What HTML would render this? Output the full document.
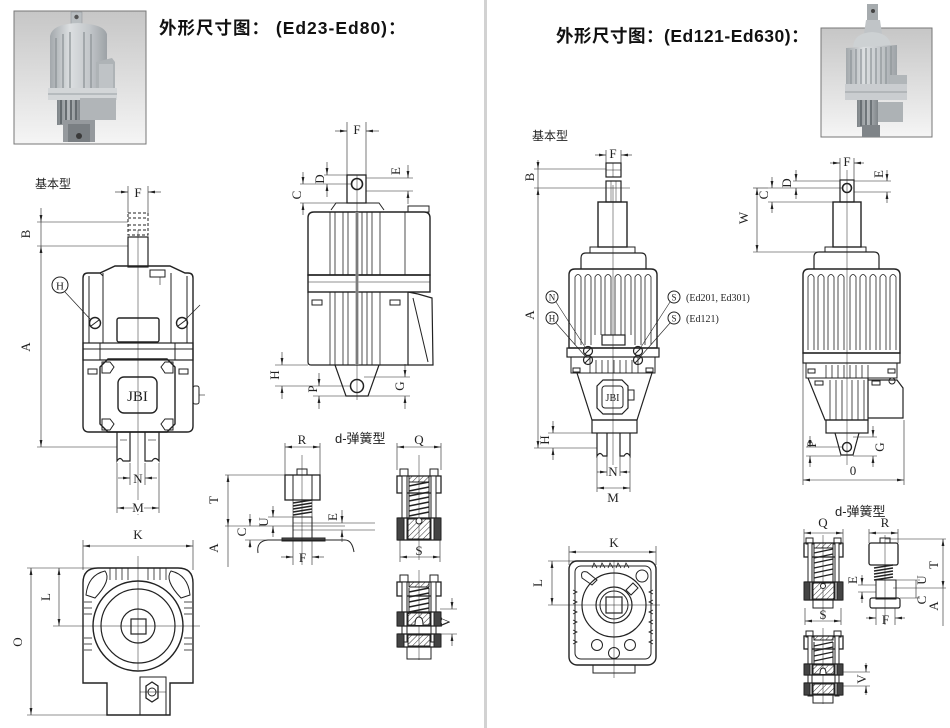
<!DOCTYPE html>
<html><head><meta charset="utf-8"><style>
html,body{margin:0;padding:0;background:#fff}
svg{display:block}
.t{font-family:"Liberation Serif",serif;font-size:13px;fill:#222}
.h{font-family:"Liberation Sans","Noto Sans CJK SC",sans-serif;font-weight:bold;font-size:17.5px;fill:#111}
.c{font-family:"Liberation Sans","Noto Sans CJK SC",sans-serif;font-size:12px;fill:#222}
</style></head><body>
<svg width="950" height="728" viewBox="0 0 950 728" xmlns="http://www.w3.org/2000/svg">
<defs>
<marker id="ar" viewBox="0 0 10 10" refX="10" refY="5" markerWidth="7" markerHeight="7" orient="auto-start-reverse" markerUnits="userSpaceOnUse"><path d="M0,3 L10,5 L0,7 Z" fill="#222"/></marker>
<pattern id="hat" width="4" height="4" patternUnits="userSpaceOnUse" patternTransform="rotate(45)"><line x1="0" y1="0" x2="0" y2="4" stroke="#333" stroke-width="1"/></pattern>
<linearGradient id="pg" x1="0" y1="0" x2="0" y2="1"><stop offset="0" stop-color="#c6c6c6"/><stop offset="1" stop-color="#f5f5f5"/></linearGradient>
<linearGradient id="mg" x1="0" y1="0" x2="1" y2="0"><stop offset="0" stop-color="#a3a8ac"/><stop offset="0.35" stop-color="#dcdfe1"/><stop offset="0.7" stop-color="#c2c6c9"/><stop offset="1" stop-color="#9da2a6"/></linearGradient>
<linearGradient id="dg" x1="0" y1="0" x2="1" y2="0"><stop offset="0" stop-color="#7e8488"/><stop offset="0.5" stop-color="#b5b9bc"/><stop offset="1" stop-color="#80868a"/></linearGradient>
</defs>

<!-- divider -->
<rect x="484" y="0" width="3" height="728" fill="#d2d2d2"/>

<!-- LEFT PHOTO -->
<rect x="14" y="11" width="132" height="133" fill="url(#pg)" stroke="#777" stroke-width="1"/>
<g>
<rect x="71" y="12" width="11" height="12" fill="#b9bec1" stroke="#8a8f93" stroke-width="0.5"/>
<circle cx="76.5" cy="17" r="2.2" fill="#555"/>
<path d="M50,90 L50,36 Q52,24 78,23 Q104,24 107,34 L107,62 L96,62 L96,90 Z" fill="url(#mg)"/>
<g stroke="#8d9397" stroke-width="1.3"><line x1="56" y1="38" x2="56" y2="88"/><line x1="63" y1="34" x2="63" y2="88"/><line x1="70" y1="32" x2="70" y2="88"/><line x1="84" y1="32" x2="84" y2="88"/><line x1="91" y1="34" x2="91" y2="88"/></g>
<path d="M96,62 L112,58 L115,62 L115,93 L96,93 Z" fill="#aeb3b6"/>
<rect x="99" y="64" width="14" height="26" fill="#bfc3c6"/>
<rect x="48" y="88" width="69" height="12" fill="#d3d6d8"/>
<line x1="48" y1="94" x2="117" y2="94" stroke="#9aa0a4" stroke-width="1"/>
<rect x="57" y="100" width="23" height="25" fill="url(#dg)"/>
<g stroke="#5f666a" stroke-width="1.8"><line x1="61" y1="100" x2="61" y2="124"/><line x1="66" y1="100" x2="66" y2="124"/><line x1="71" y1="100" x2="71" y2="124"/><line x1="76" y1="100" x2="76" y2="124"/></g>
<rect x="80" y="98" width="36" height="22" fill="#b1b5b8"/>
<rect x="63" y="120" width="32" height="22" fill="#95999d"/>
<rect x="68" y="124" width="22" height="18" fill="#7a7f83"/>
<circle cx="79" cy="136" r="3" fill="#3a3a3a"/>
</g>

<text x="159" y="34" class="h" style="letter-spacing:1px">外形尺寸图：  (Ed23-Ed80)：</text>
<text x="35" y="188" class="c">基本型</text>

<!-- LEFT FRONT VIEW -->
<g stroke="#222" fill="none" stroke-width="1">
<line x1="128" y1="186" x2="128" y2="213" stroke-width="0.6"/>
<line x1="148" y1="186" x2="148" y2="213" stroke-width="0.6"/>
<line x1="115" y1="192" x2="128" y2="192" stroke-width="0.6" marker-end="url(#ar)"/>
<line x1="161" y1="192" x2="148" y2="192" stroke-width="0.6" marker-end="url(#ar)"/>
<rect x="128" y="213" width="20" height="22" stroke-dasharray="3,2"/>
<line x1="128" y1="218" x2="148" y2="218" stroke-dasharray="3,2"/>
<line x1="128" y1="225" x2="148" y2="225" stroke-dasharray="3,2"/>
<line x1="128" y1="230" x2="148" y2="230" stroke-dasharray="3,2"/>
<rect x="128" y="237" width="20" height="30" stroke-width="1.2"/>
<line x1="138" y1="230" x2="138" y2="515" stroke-width="0.5"/>
<!-- body -->
<path d="M83,278 Q83,273 88,273 L100,273 L115,266 L170,266 L185,273 L188,273 Q193,273 193,278 L193,426 Q193,432 187,432 L89,432 Q83,432 83,426 Z" stroke-width="1.4"/>
<line x1="89" y1="276" x2="89" y2="343"/><line x1="187" y1="276" x2="187" y2="343"/>
<line x1="103" y1="273" x2="103" y2="343"/><line x1="171" y1="273" x2="171" y2="343"/>
<line x1="100" y1="273" x2="103" y2="276"/>
<rect x="150" y="270" width="15" height="7"/>
<line x1="160" y1="277" x2="160" y2="285" stroke-width="0.6"/>
<rect x="117" y="318" width="42" height="24" rx="2" stroke-width="1.4"/>
<rect x="83" y="343" width="110" height="17" stroke-width="1.2"/>
<line x1="83" y1="349" x2="193" y2="349"/>
<line x1="100" y1="343" x2="100" y2="360"/><line x1="175" y1="343" x2="175" y2="360"/>
<path d="M108,359 L167,359 L175,367 L175,424 L167,432 L108,432 L100,424 L100,367 Z" stroke-width="1.4"/>
<path d="M102,362 L110,362 L114,367 L110,373 L102,373 Z"/><path d="M173,362 L165,362 L161,367 L165,373 L173,373 Z"/>
<path d="M102,419 L110,419 L114,424 L110,430 L102,430 Z"/><path d="M173,419 L165,419 L161,424 L165,430 L173,430 Z"/>
<rect x="118" y="377" width="39" height="36" rx="6" stroke-width="1.4"/>
<rect x="88" y="369" width="9" height="5"/><rect x="179" y="369" width="9" height="5"/>
<rect x="193" y="386" width="6" height="18" rx="2"/>
<line x1="199" y1="395" x2="205" y2="395" stroke-width="0.6"/>
<circle cx="95" cy="323" r="5.5" stroke-width="1.4"/><line x1="91" y1="326" x2="99" y2="320"/>
<circle cx="182" cy="323" r="5.5" stroke-width="1.4"/><line x1="178" y1="326" x2="186" y2="320"/>
<circle cx="60" cy="285" r="8"/>
<line x1="65" y1="292" x2="91" y2="320" stroke-width="0.7"/>
<line x1="186" y1="319" x2="200" y2="305" stroke-width="0.7"/>
<!-- legs -->
<path d="M117,432 L117,461 Q120,456 123,461 L130,461 L130,432" stroke-width="1.2"/>
<path d="M145,432 L145,461 L152,461 Q155,456 159,461 L159,432" stroke-width="1.2"/>
<line x1="120" y1="440" x2="127" y2="440" stroke-width="0.6"/><line x1="148" y1="440" x2="156" y2="440" stroke-width="0.6"/>
<!-- A/B dims -->
<line x1="37" y1="222" x2="128" y2="222" stroke-width="0.6"/>
<line x1="37" y1="246" x2="128" y2="246" stroke-width="0.6"/>
<line x1="37" y1="447" x2="117" y2="447" stroke-width="0.6"/>
<line x1="41" y1="208" x2="41" y2="222" stroke-width="0.6" marker-end="url(#ar)"/>
<line x1="41" y1="246" x2="41" y2="447" stroke-width="0.6" marker-start="url(#ar)" marker-end="url(#ar)"/>
<line x1="41" y1="222" x2="41" y2="246" stroke-width="0.6"/>
<!-- N M -->
<line x1="130" y1="463" x2="130" y2="485" stroke-width="0.6"/><line x1="145" y1="463" x2="145" y2="485" stroke-width="0.6"/>
<line x1="117" y1="463" x2="117" y2="513" stroke-width="0.6"/><line x1="159" y1="463" x2="159" y2="513" stroke-width="0.6"/>
<line x1="118" y1="478" x2="130" y2="478" stroke-width="0.6" marker-end="url(#ar)"/>
<line x1="157" y1="478" x2="145" y2="478" stroke-width="0.6" marker-end="url(#ar)"/>
<line x1="117" y1="508" x2="159" y2="508" stroke-width="0.6" marker-start="url(#ar)" marker-end="url(#ar)"/>
</g>
<text x="138" y="197" class="t" text-anchor="middle">F</text>
<text x="137.5" y="401" class="t" text-anchor="middle" style="font-size:15px">JBI</text>
<text x="60" y="289.5" class="t" text-anchor="middle" style="font-size:11px">H</text>
<text transform="translate(30,234) rotate(-90)" class="t" text-anchor="middle">B</text>
<text transform="translate(30,347) rotate(-90)" class="t" text-anchor="middle">A</text>
<text x="138" y="483" class="t" text-anchor="middle">N</text>
<rect x="133" y="500" width="11" height="14" fill="#fff"/>
<text x="138" y="512" class="t" text-anchor="middle">M</text>

<!-- LEFT SIDE VIEW -->
<g stroke="#222" fill="none" stroke-width="1">
<line x1="347" y1="122" x2="347" y2="175" stroke-width="0.6"/>
<line x1="366" y1="122" x2="366" y2="175" stroke-width="0.6"/>
<line x1="335" y1="131" x2="347" y2="131" stroke-width="0.6" marker-end="url(#ar)"/>
<line x1="379" y1="131" x2="366" y2="131" stroke-width="0.6" marker-end="url(#ar)"/>
<rect x="347" y="175" width="19" height="28" stroke-width="1.3"/>
<circle cx="357" cy="184" r="5.5" stroke-width="1.6"/>
<path d="M331,210 L336,203 L379,203 L384,210"/>
<path d="M308,218 Q308,212 314,212 L424,212 Q430,212 430,218 L430,275 L308,275 Z" stroke-width="1.4"/>
<rect x="408" y="206" width="21" height="6"/>
<rect x="308" y="275" width="122" height="17" stroke-width="1.4"/>
<line x1="308" y1="282" x2="430" y2="282" stroke-width="0.6"/>
<path d="M308,292 L308,362 Q308,365 311,365 L408,365 L408,292" stroke-width="1.2"/>
<path d="M408,292 L418,294 L432,298 L433,365 L408,365" stroke-width="1.2"/>
<line x1="413" y1="298" x2="428" y2="362"/>
<g stroke-width="0.8">
<line x1="330" y1="212" x2="330" y2="275"/><line x1="335" y1="212" x2="335" y2="275"/><line x1="343" y1="212" x2="343" y2="275"/><line x1="348" y1="212" x2="348" y2="275"/><line x1="362" y1="212" x2="362" y2="275"/><line x1="367" y1="212" x2="367" y2="275"/><line x1="372" y1="212" x2="372" y2="275"/><line x1="380" y1="212" x2="380" y2="275"/><line x1="405" y1="212" x2="405" y2="275"/>
<line x1="330" y1="292" x2="330" y2="365"/><line x1="335" y1="292" x2="335" y2="365"/><line x1="343" y1="292" x2="343" y2="365"/><line x1="348" y1="292" x2="348" y2="365"/><line x1="362" y1="292" x2="362" y2="365"/><line x1="367" y1="292" x2="367" y2="365"/><line x1="372" y1="292" x2="372" y2="365"/><line x1="380" y1="292" x2="380" y2="365"/>
</g>
<rect x="312" y="300" width="10" height="5"/><rect x="390" y="300" width="10" height="5"/>
<path d="M335,365 L346,396 L368,396 L379,365" stroke-width="1.2"/>
<circle cx="357" cy="386" r="6.5" stroke-width="1.5"/>
<!-- dims -->
<line x1="300" y1="184" x2="351" y2="184" stroke-width="0.6"/>
<line x1="300" y1="203" x2="336" y2="203" stroke-width="0.6"/>
<line x1="303" y1="172" x2="303" y2="184" stroke-width="0.6" marker-end="url(#ar)"/>
<line x1="303" y1="215" x2="303" y2="203" stroke-width="0.6" marker-end="url(#ar)"/>
<line x1="324" y1="175" x2="347" y2="175" stroke-width="0.6"/>
<line x1="327" y1="162" x2="327" y2="175" stroke-width="0.6" marker-end="url(#ar)"/>
<line x1="327" y1="197" x2="327" y2="184" stroke-width="0.6" marker-end="url(#ar)"/>
<line x1="366" y1="178" x2="413" y2="178" stroke-width="0.6"/>
<line x1="366" y1="191" x2="413" y2="191" stroke-width="0.6"/>
<line x1="408" y1="165" x2="408" y2="178" stroke-width="0.6" marker-end="url(#ar)"/>
<line x1="408" y1="204" x2="408" y2="191" stroke-width="0.6" marker-end="url(#ar)"/>
<line x1="275" y1="365" x2="308" y2="365" stroke-width="0.6"/>
<line x1="275" y1="386" x2="350" y2="386" stroke-width="0.6"/>
<line x1="282" y1="352" x2="282" y2="365" stroke-width="0.6" marker-end="url(#ar)"/>
<line x1="282" y1="399" x2="282" y2="386" stroke-width="0.6" marker-end="url(#ar)"/>
<line x1="313" y1="396" x2="346" y2="396" stroke-width="0.6"/>
<line x1="319" y1="373" x2="319" y2="386" stroke-width="0.6" marker-end="url(#ar)"/>
<line x1="319" y1="409" x2="319" y2="396" stroke-width="0.6" marker-end="url(#ar)"/>
<line x1="364" y1="377" x2="410" y2="377" stroke-width="0.6"/>
<line x1="368" y1="396" x2="410" y2="396" stroke-width="0.6"/>
<line x1="405" y1="364" x2="405" y2="377" stroke-width="0.6" marker-end="url(#ar)"/>
<line x1="405" y1="409" x2="405" y2="396" stroke-width="0.6" marker-end="url(#ar)"/>
</g>
<rect x="355.5" y="212" width="3" height="153" fill="#999"/>
<line x1="357" y1="175" x2="357" y2="400" stroke="#222" stroke-width="0.5"/>
<text x="357" y="134" class="t" text-anchor="middle">F</text>
<text transform="translate(301,195) rotate(-90)" class="t" text-anchor="middle">C</text>
<text transform="translate(324,179) rotate(-90)" class="t" text-anchor="middle">D</text>
<text transform="translate(400,171) rotate(-90)" class="t" text-anchor="middle">E</text>
<text transform="translate(279,375) rotate(-90)" class="t" text-anchor="middle">H</text>
<text transform="translate(317,389) rotate(-90)" class="t" text-anchor="middle">P</text>
<text transform="translate(404,386) rotate(-90)" class="t" text-anchor="middle">G</text>

<!-- LEFT BOTTOM K VIEW -->
<g stroke="#222" fill="none" stroke-width="1">
<line x1="83" y1="540" x2="83" y2="570" stroke-width="0.6"/><line x1="193" y1="540" x2="193" y2="570" stroke-width="0.6"/>
<line x1="83" y1="546" x2="193" y2="546" stroke-width="0.6" marker-start="url(#ar)" marker-end="url(#ar)"/>
<path d="M98,568 L178,568 Q193,568 193,583 L193,683 L170,683 L170,715 L107,715 L107,683 L83,683 L83,583 Q83,568 98,568 Z" stroke-width="1.4"/>
<path d="M86,595 Q88,575 105,571 Q112,580 95,598 Z"/>
<path d="M190,595 Q188,575 171,571 Q164,580 181,598 Z"/>
<g stroke-width="0.8"><line x1="110" y1="568" x2="110" y2="580"/><line x1="116" y1="568" x2="116" y2="580"/><line x1="122" y1="568" x2="122" y2="580"/><line x1="128" y1="568" x2="128" y2="580"/><line x1="148" y1="568" x2="148" y2="580"/><line x1="154" y1="568" x2="154" y2="580"/><line x1="160" y1="568" x2="160" y2="580"/><line x1="166" y1="568" x2="166" y2="580"/>
<line x1="84" y1="602" x2="92" y2="602"/><line x1="84" y1="608" x2="92" y2="608"/><line x1="84" y1="614" x2="92" y2="614"/><line x1="84" y1="638" x2="92" y2="638"/><line x1="84" y1="644" x2="92" y2="644"/><line x1="84" y1="650" x2="92" y2="650"/>
<line x1="184" y1="602" x2="192" y2="602"/><line x1="184" y1="608" x2="192" y2="608"/><line x1="184" y1="614" x2="192" y2="614"/><line x1="184" y1="638" x2="192" y2="638"/><line x1="184" y1="644" x2="192" y2="644"/><line x1="184" y1="650" x2="192" y2="650"/></g>
<circle cx="138" cy="626" r="45" stroke-width="1.4"/>
<circle cx="138" cy="626" r="37" stroke-width="1.2"/>
<circle cx="138" cy="626" r="17" stroke-width="1.2"/>
<rect x="131" y="619" width="15" height="15" stroke-width="1.2"/>
<rect x="140" y="677" width="26" height="38"/>
<path d="M146,686 L152,682 L158,686 L158,698 L152,702 L146,698 Z" stroke-width="1.3"/>
<circle cx="152" cy="692" r="4"/>
<line x1="138" y1="556" x2="138" y2="670" stroke-width="0.5"/>
<line x1="53" y1="626" x2="200" y2="626" stroke-width="0.5"/>
<line x1="140" y1="692" x2="166" y2="692" stroke-width="0.5"/>
<line x1="27" y1="568" x2="96" y2="568" stroke-width="0.6"/>
<line x1="27" y1="715" x2="107" y2="715" stroke-width="0.6"/>
<line x1="59" y1="568" x2="59" y2="626" stroke-width="0.6" marker-start="url(#ar)" marker-end="url(#ar)"/>
<line x1="31" y1="568" x2="31" y2="715" stroke-width="0.6" marker-start="url(#ar)" marker-end="url(#ar)"/>
</g>
<text x="138" y="539" class="t" text-anchor="middle">K</text>
<text transform="translate(50,597) rotate(-90)" class="t" text-anchor="middle">L</text>
<text transform="translate(22,642) rotate(-90)" class="t" text-anchor="middle">O</text>

<!-- LEFT d-spring -->
<text x="335" y="443" class="c" style="font-size:13px">d-弹簧型</text>
<g stroke="#222" fill="none" stroke-width="1">
<line x1="285" y1="443" x2="285" y2="475" stroke-width="0.6"/><line x1="320" y1="443" x2="320" y2="475" stroke-width="0.6"/>
<line x1="285" y1="447" x2="320" y2="447" stroke-width="0.6" marker-start="url(#ar)" marker-end="url(#ar)"/>
<rect x="297" y="469" width="10" height="6"/>
<rect x="285" y="475" width="35" height="25" stroke-width="1.3"/>
<line x1="293" y1="475" x2="293" y2="500"/><line x1="312" y1="475" x2="312" y2="500"/>
<path d="M293,503 L312,500 M293,506 L312,503 M293,509 L312,506 M293,512 L312,509 M293,515 L312,512" stroke-width="1.6"/>
<path d="M293,500 L293,517 M312,500 L312,517" stroke-width="0.6"/>
<rect x="293" y="517" width="19" height="22"/>
<line x1="293" y1="523" x2="312" y2="523" stroke-width="0.6"/><line x1="293" y1="530" x2="312" y2="530" stroke-width="0.6"/>
<rect x="282" y="538" width="43" height="3" fill="#555"/>
<path d="M258,553 Q256,541 268,540 L345,540 Q352,540 354,552"/>
<line x1="302" y1="455" x2="302" y2="565" stroke-width="0.5"/>
<line x1="225" y1="475" x2="285" y2="475" stroke-width="0.6"/>
<line x1="225" y1="526" x2="345" y2="526" stroke-width="0.6"/>
<line x1="228" y1="475" x2="228" y2="526" stroke-width="0.6" marker-start="url(#ar)" marker-end="url(#ar)"/>
<line x1="228" y1="526" x2="228" y2="567" stroke-width="0.6"/>
<line x1="268" y1="517" x2="298" y2="517" stroke-width="0.6"/>
<line x1="273" y1="506" x2="273" y2="517" stroke-width="0.6" marker-end="url(#ar)"/>
<line x1="273" y1="537" x2="273" y2="526" stroke-width="0.6" marker-end="url(#ar)"/>
<line x1="250" y1="514" x2="250" y2="526" stroke-width="0.6" marker-end="url(#ar)"/>
<line x1="250" y1="548" x2="250" y2="540" stroke-width="0.6" marker-end="url(#ar)"/>
<line x1="245" y1="540" x2="282" y2="540" stroke-width="0.6"/>
<line x1="312" y1="523" x2="375" y2="523" stroke-width="0.6"/>
<line x1="312" y1="530" x2="375" y2="530" stroke-width="0.6"/>
<line x1="342" y1="510" x2="342" y2="523" stroke-width="0.6" marker-end="url(#ar)"/>
<line x1="342" y1="542" x2="342" y2="530" stroke-width="0.6" marker-end="url(#ar)"/>
<line x1="293" y1="541" x2="293" y2="565" stroke-width="0.6"/><line x1="312" y1="541" x2="312" y2="565" stroke-width="0.6"/>
<line x1="281" y1="557" x2="293" y2="557" stroke-width="0.6" marker-end="url(#ar)"/>
<line x1="324" y1="557" x2="312" y2="557" stroke-width="0.6" marker-end="url(#ar)"/>
</g>
<text x="302" y="444" class="t" text-anchor="middle">R</text>
<text x="302.5" y="562" class="t" text-anchor="middle">F</text>
<text transform="translate(218,500) rotate(-90)" class="t" text-anchor="middle">T</text>
<text transform="translate(218,548) rotate(-90)" class="t" text-anchor="middle">A</text>
<text transform="translate(268,522) rotate(-90)" class="t" text-anchor="middle">U</text>
<text transform="translate(246,532) rotate(-90)" class="t" text-anchor="middle">C</text>
<text transform="translate(337,517) rotate(-90)" class="t" text-anchor="middle">E</text>

<!-- spring units left -->
<g stroke="#222" fill="none" stroke-width="1">
<line x1="397" y1="443" x2="397" y2="470" stroke-width="0.6"/><line x1="441" y1="443" x2="441" y2="470" stroke-width="0.6"/>
<line x1="397" y1="447" x2="441" y2="447" stroke-width="0.6" marker-start="url(#ar)" marker-end="url(#ar)"/>
<line x1="419" y1="455" x2="419" y2="560" stroke-width="0.5"/>
<rect x="400" y="469" width="8" height="7" fill="#fff"/><rect x="430" y="469" width="8" height="7" fill="#fff"/>
<rect x="397" y="476" width="44" height="17" stroke-width="1.3"/>
<rect x="409" y="476" width="20" height="6" fill="url(#hat)"/>
<rect x="402" y="476" width="5" height="64" fill="#fff"/><rect x="431" y="476" width="5" height="64" fill="#fff"/>
<path d="M409,486 L429,482 M409,491 L429,487 M409,496 L429,492 M409,501 L429,497 M409,506 L429,502 M409,511 L429,507 M409,516 L429,512" stroke-width="1.5"/>
<line x1="409" y1="482" x2="409" y2="518"/><line x1="429" y1="482" x2="429" y2="518"/>
<rect x="398" y="518" width="42" height="22" stroke-width="1.3"/>
<rect x="408" y="519" width="22" height="20" fill="url(#hat)"/>
<rect x="397" y="518" width="7" height="22" fill="#444"/><rect x="434" y="518" width="7" height="22" fill="#444"/>
<circle cx="419" cy="521" r="3" fill="#fff"/>
<line x1="400" y1="540" x2="400" y2="562" stroke-width="0.6"/><line x1="440" y1="540" x2="440" y2="562" stroke-width="0.6"/>
<line x1="400" y1="557" x2="440" y2="557" stroke-width="0.6" marker-start="url(#ar)" marker-end="url(#ar)"/>

<line x1="419" y1="570" x2="419" y2="660" stroke-width="0.5"/>
<rect x="400" y="575" width="8" height="7" fill="#fff"/><rect x="430" y="575" width="8" height="7" fill="#fff"/>
<rect x="397" y="582" width="44" height="14" stroke-width="1.3"/>
<rect x="409" y="582" width="20" height="5" fill="url(#hat)"/>
<rect x="402" y="582" width="5" height="60" fill="#fff"/><rect x="431" y="582" width="5" height="60" fill="#fff"/>
<path d="M409,592 L429,588 M409,597 L429,593 M409,602 L429,598 M409,607 L429,603 M409,612 L429,608" stroke-width="1.5"/>
<line x1="409" y1="588" x2="409" y2="614"/><line x1="429" y1="588" x2="429" y2="614"/>
<rect x="398" y="612" width="42" height="14" stroke-width="1.3"/>
<rect x="408" y="613" width="22" height="12" fill="url(#hat)"/>
<rect x="397" y="612" width="7" height="14" fill="#444"/><rect x="434" y="612" width="7" height="14" fill="#444"/>
<path d="M415,625 Q415,617 419,617 Q423,617 423,625" fill="#fff"/>
<rect x="398" y="634" width="42" height="13" stroke-width="1.3"/>
<rect x="408" y="635" width="22" height="11" fill="url(#hat)"/>
<rect x="397" y="634" width="7" height="13" fill="#444"/><rect x="434" y="634" width="7" height="13" fill="#444"/>
<rect x="407" y="647" width="24" height="12"/>
<line x1="440" y1="609" x2="457" y2="609" stroke-width="0.6"/><line x1="440" y1="634" x2="457" y2="634" stroke-width="0.6"/>
<line x1="452" y1="598" x2="452" y2="609" stroke-width="0.6" marker-end="url(#ar)"/>
<line x1="452" y1="646" x2="452" y2="634" stroke-width="0.6" marker-end="url(#ar)"/>
</g>
<text x="419" y="444" class="t" text-anchor="middle">Q</text>
<text x="419" y="555" class="t" text-anchor="middle">S</text>
<text transform="translate(450,622) rotate(-90)" class="t" text-anchor="middle">V</text>

<!-- RIGHT TITLE / PHOTO -->
<text x="556" y="42" class="h" style="letter-spacing:0.5px">外形尺寸图：(Ed121-Ed630)：</text>
<rect x="821" y="28" width="111" height="109" fill="url(#pg)" stroke="#777" stroke-width="1"/>
<g>
<rect x="867" y="4" width="11" height="18" fill="#a6abae"/>
<circle cx="873" cy="11" r="2" fill="#444"/>
<path d="M866,20 L880,20 L882,34 L864,34 Z" fill="#c0c4c7"/>
<path d="M853,47 Q854,33 872,32 Q890,33 891,47 Z" fill="#cdd1d3"/>
<path d="M846,48 L897,45 L897,86 L846,88 Z" fill="url(#mg)"/>
<g stroke="#8c9296" stroke-width="1.2"><line x1="851" y1="50" x2="851" y2="86"/><line x1="856" y1="49" x2="856" y2="86"/><line x1="861" y1="49" x2="861" y2="86"/><line x1="866" y1="48" x2="866" y2="86"/><line x1="871" y1="48" x2="871" y2="86"/><line x1="876" y1="48" x2="876" y2="86"/><line x1="881" y1="47" x2="881" y2="86"/><line x1="886" y1="47" x2="886" y2="86"/><line x1="891" y1="46" x2="891" y2="86"/></g>
<rect x="890" y="75" width="17" height="17" fill="#b1b6b9"/>
<rect x="845" y="84" width="62" height="16" fill="#cacdd0"/>
<line x1="845" y1="92" x2="907" y2="92" stroke="#999ea2" stroke-width="1"/>
<rect x="857" y="100" width="21" height="27" fill="url(#dg)"/>
<g stroke="#5f666a" stroke-width="1.6"><line x1="861" y1="100" x2="861" y2="126"/><line x1="866" y1="100" x2="866" y2="126"/><line x1="871" y1="100" x2="871" y2="126"/></g>
<rect x="878" y="102" width="25" height="20" fill="#adb2b5"/>
<rect x="862" y="125" width="18" height="12" fill="#7f8488"/>
</g>
<text x="532" y="140" class="c">基本型</text>

<!-- RIGHT FRONT VIEW -->
<g stroke="#222" fill="none" stroke-width="1">
<line x1="606" y1="150" x2="606" y2="163" stroke-width="0.6"/><line x1="621" y1="150" x2="621" y2="163" stroke-width="0.6"/>
<line x1="595" y1="155" x2="606" y2="155" stroke-width="0.6" marker-end="url(#ar)"/>
<line x1="632" y1="155" x2="621" y2="155" stroke-width="0.6" marker-end="url(#ar)"/>
<rect x="606" y="163" width="15" height="14" stroke-width="1.2"/>
<line x1="606" y1="170" x2="621" y2="170" stroke-width="0.5"/><line x1="613" y1="163" x2="613" y2="177" stroke-width="0.5"/>
<rect x="606" y="181" width="15" height="21" stroke-width="1.2"/>
<line x1="611" y1="181" x2="611" y2="202" stroke-width="0.5"/><line x1="616" y1="181" x2="616" y2="202" stroke-width="0.5"/>
<rect x="598" y="202" width="29" height="45" stroke-width="1.4"/>
<rect x="590" y="247" width="45" height="6"/>
<path d="M581,269 L581,258 Q581,253 586,253 L641,253 Q646,253 646,258 L646,269" stroke-width="1.2"/>
<path d="M569,348 L569,275 Q569,269 575,269 L651,269 Q657,269 657,275 L657,348 Z" stroke-width="1.4"/>
<g stroke-width="0.8">
<path d="M575,345 L575,277 Q578,272 581,277 L581,345"/><path d="M585,345 L585,277 Q588,272 591,277 L591,345"/><path d="M595,335 L595,277 Q598,272 601,277 L601,335"/><path d="M605,335 L605,277 Q608,272 611,277 L611,335"/><path d="M615,335 L615,277 Q618,272 621,277 L621,335"/><path d="M625,335 L625,277 Q628,272 631,277 L631,335"/><path d="M635,345 L635,277 Q638,272 641,277 L641,345"/><path d="M645,345 L645,277 Q648,272 651,277 L651,345"/>
</g>
<rect x="602" y="335" width="23" height="10" stroke-width="1.2"/>
<rect x="567" y="348" width="92" height="9" stroke-width="1.2"/>
<rect x="571" y="357" width="84" height="16"/>
<g stroke-width="0.8"><line x1="590" y1="357" x2="590" y2="373"/><line x1="596" y1="360" x2="596" y2="373"/><line x1="602" y1="360" x2="602" y2="373"/><line x1="608" y1="360" x2="608" y2="373"/><line x1="614" y1="360" x2="614" y2="373"/><line x1="620" y1="360" x2="620" y2="373"/><line x1="626" y1="360" x2="626" y2="373"/><line x1="632" y1="360" x2="632" y2="373"/><line x1="638" y1="357" x2="638" y2="373"/></g>
<rect x="573" y="368" width="7" height="4"/><rect x="646" y="368" width="7" height="4"/>
<path d="M577,373 L592,420 L637,420 L652,373" stroke-width="1.2"/>
<path d="M603,380 L622,380 L628,386 L628,408 L622,414 L603,414 L597,408 L597,386 Z" stroke-width="1.2"/>
<rect x="602" y="386" width="21" height="22" rx="3"/>
<rect x="628" y="390" width="6" height="10"/>
<rect x="592" y="420" width="45" height="13" stroke-width="1.2"/>
<path d="M597,433 L597,456 Q600,451 603,456 L607,456 L607,433" stroke-width="1.2"/>
<path d="M620,433 L620,456 L624,456 Q627,451 630,456 L630,433" stroke-width="1.2"/>
<line x1="613" y1="185" x2="613" y2="465" stroke-width="0.5"/>
<circle cx="588" cy="351" r="4.5" stroke-width="1.2"/><line x1="585" y1="354" x2="591" y2="348"/>
<circle cx="588" cy="360" r="4.5" stroke-width="1.2"/><line x1="585" y1="363" x2="591" y2="357"/>
<circle cx="638" cy="351" r="4.5" stroke-width="1.2"/><line x1="635" y1="354" x2="641" y2="348"/>
<circle cx="638" cy="360" r="4.5" stroke-width="1.2"/><line x1="635" y1="363" x2="641" y2="357"/>
<circle cx="552" cy="297" r="6"/><circle cx="552" cy="318" r="6"/>
<circle cx="674" cy="297" r="6"/><circle cx="674" cy="318" r="6"/>
<line x1="556" y1="302" x2="585" y2="347" stroke-width="0.6"/>
<line x1="556" y1="323" x2="585" y2="356" stroke-width="0.6"/>
<line x1="670" y1="302" x2="641" y2="347" stroke-width="0.6"/>
<line x1="670" y1="323" x2="641" y2="356" stroke-width="0.6"/>
<!-- A B H dims -->
<line x1="534" y1="169" x2="606" y2="169" stroke-width="0.6"/>
<line x1="534" y1="188" x2="630" y2="188" stroke-width="0.6"/>
<line x1="534" y1="448" x2="597" y2="448" stroke-width="0.6"/>
<line x1="548" y1="433" x2="592" y2="433" stroke-width="0.6"/>
<line x1="538" y1="160" x2="538" y2="169" stroke-width="0.6" marker-end="url(#ar)"/>
<line x1="538" y1="169" x2="538" y2="188" stroke-width="0.6"/>
<line x1="538" y1="188" x2="538" y2="448" stroke-width="0.6" marker-start="url(#ar)" marker-end="url(#ar)"/>
<line x1="553" y1="421" x2="553" y2="433" stroke-width="0.6" marker-end="url(#ar)"/>
<line x1="553" y1="460" x2="553" y2="448" stroke-width="0.6" marker-end="url(#ar)"/>
<line x1="607" y1="456" x2="607" y2="476" stroke-width="0.6"/><line x1="620" y1="456" x2="620" y2="476" stroke-width="0.6"/>
<line x1="597" y1="456" x2="597" y2="492" stroke-width="0.6"/><line x1="630" y1="456" x2="630" y2="492" stroke-width="0.6"/>
<line x1="597" y1="472" x2="607" y2="472" stroke-width="0.6" marker-end="url(#ar)"/>
<line x1="630" y1="472" x2="620" y2="472" stroke-width="0.6" marker-end="url(#ar)"/>
<line x1="597" y1="488" x2="630" y2="488" stroke-width="0.6" marker-start="url(#ar)" marker-end="url(#ar)"/>
</g>
<text x="613" y="158" class="t" text-anchor="middle">F</text>
<text x="612.5" y="401" class="t" text-anchor="middle" style="font-size:10px">JBI</text>
<text transform="translate(534,177) rotate(-90)" class="t" text-anchor="middle">B</text>
<text transform="translate(534,315) rotate(-90)" class="t" text-anchor="middle">A</text>
<text transform="translate(549,440) rotate(-90)" class="t" text-anchor="middle">H</text>
<text x="613" y="476" class="t" text-anchor="middle">N</text>
<text x="613" y="502" class="t" text-anchor="middle">M</text>
<text x="552" y="300.5" class="t" text-anchor="middle" style="font-size:9px">N</text>
<text x="552" y="321.5" class="t" text-anchor="middle" style="font-size:9px">H</text>
<text x="674" y="300.5" class="t" text-anchor="middle" style="font-size:9px">S</text>
<text x="674" y="321.5" class="t" text-anchor="middle" style="font-size:9px">S</text>
<text x="686" y="301" class="t" style="font-size:10px">(Ed201, Ed301)</text>
<text x="686" y="322" class="t" style="font-size:10px">(Ed121)</text>

<!-- RIGHT SIDE VIEW -->
<g stroke="#222" fill="none" stroke-width="1">
<line x1="840" y1="158" x2="840" y2="180" stroke-width="0.6"/><line x1="854" y1="158" x2="854" y2="180" stroke-width="0.6"/>
<line x1="830" y1="163" x2="840" y2="163" stroke-width="0.6" marker-end="url(#ar)"/>
<line x1="864" y1="163" x2="854" y2="163" stroke-width="0.6" marker-end="url(#ar)"/>
<rect x="840" y="180" width="14" height="22" stroke-width="1.2"/>
<circle cx="847" cy="188" r="4.5" stroke-width="1.6"/>
<rect x="833" y="202" width="28" height="45" stroke-width="1.4"/>
<rect x="825" y="247" width="41" height="5"/>
<path d="M814,269 L814,257 Q814,252 819,252 L874,252 Q879,252 879,257 L879,269" stroke-width="1.2"/>
<path d="M803,353 L803,275 Q803,269 809,269 L894,269 Q900,269 900,275 L900,353 Z" stroke-width="1.4"/>
<g stroke-width="0.8">
<path d="M808,350 L808,277 Q811,272 814,277 L814,350"/><path d="M818,350 L818,277 Q821,272 824,277 L824,350"/><path d="M828,350 L828,277 Q831,272 834,277 L834,350"/><path d="M838,350 L838,277 Q841,272 844,277 L844,350"/><path d="M850,350 L850,277 Q853,272 856,277 L856,350"/><path d="M860,350 L860,277 Q863,272 866,277 L866,350"/><path d="M870,350 L870,277 Q873,272 876,277 L876,350"/><path d="M880,350 L880,277 Q883,272 886,277 L886,350"/><path d="M890,350 L890,277 Q893,272 896,277 L896,350"/>
</g>
<rect x="803" y="353" width="97" height="10" stroke-width="1.2"/>
<rect x="806" y="363" width="91" height="15"/>
<g stroke-width="0.8"><line x1="826" y1="365" x2="826" y2="378"/><line x1="832" y1="365" x2="832" y2="378"/><line x1="838" y1="365" x2="838" y2="378"/><line x1="844" y1="365" x2="844" y2="378"/><line x1="850" y1="365" x2="850" y2="378"/><line x1="856" y1="365" x2="856" y2="378"/><line x1="862" y1="365" x2="862" y2="378"/><line x1="868" y1="365" x2="868" y2="378"/></g>
<rect x="808" y="369" width="7" height="4"/><rect x="888" y="369" width="7" height="4"/>
<path d="M808,378 L825,420 L868,420 L868,378" stroke-width="1.2"/>
<g stroke-width="0.8"><line x1="830" y1="380" x2="830" y2="420"/><line x1="836" y1="380" x2="836" y2="420"/><line x1="842" y1="380" x2="842" y2="420"/><line x1="852" y1="380" x2="852" y2="420"/><line x1="858" y1="380" x2="858" y2="420"/><line x1="864" y1="380" x2="864" y2="420"/></g>
<path d="M868,380 L897,380 L903,388 L903,418 L868,418" stroke-width="1.2"/>
<circle cx="892" cy="381" r="3"/>
<rect x="815" y="381" width="8" height="4"/><rect x="872" y="381" width="8" height="4"/>
<rect x="826" y="420" width="42" height="13" stroke-width="1.2"/>
<path d="M835,433 L841,455 L853,455 L859,433" stroke-width="1.2"/>
<circle cx="847" cy="447" r="4.5" stroke-width="1.4"/>
<line x1="847" y1="170" x2="847" y2="465" stroke-width="0.5"/>
<!-- dims -->
<line x1="768" y1="188" x2="843" y2="188" stroke-width="0.6"/>
<line x1="768" y1="202" x2="833" y2="202" stroke-width="0.6"/>
<line x1="793" y1="181" x2="840" y2="181" stroke-width="0.6"/>
<line x1="854" y1="181" x2="891" y2="181" stroke-width="0.6"/>
<line x1="854" y1="192" x2="891" y2="192" stroke-width="0.6"/>
<line x1="753" y1="252" x2="825" y2="252" stroke-width="0.6"/>
<line x1="772" y1="177" x2="772" y2="188" stroke-width="0.6" marker-end="url(#ar)"/>
<line x1="772" y1="213" x2="772" y2="202" stroke-width="0.6" marker-end="url(#ar)"/>
<line x1="796" y1="170" x2="796" y2="181" stroke-width="0.6" marker-end="url(#ar)"/>
<line x1="796" y1="199" x2="796" y2="188" stroke-width="0.6" marker-end="url(#ar)"/>
<line x1="887" y1="170" x2="887" y2="181" stroke-width="0.6" marker-end="url(#ar)"/>
<line x1="887" y1="203" x2="887" y2="192" stroke-width="0.6" marker-end="url(#ar)"/>
<line x1="757" y1="188" x2="757" y2="252" stroke-width="0.6" marker-start="url(#ar)" marker-end="url(#ar)"/>
<line x1="753" y1="188" x2="768" y2="188" stroke-width="0.6"/>
<line x1="806" y1="447" x2="843" y2="447" stroke-width="0.6"/>
<line x1="806" y1="456" x2="841" y2="456" stroke-width="0.6"/>
<line x1="853" y1="437" x2="877" y2="437" stroke-width="0.6"/>
<line x1="853" y1="456" x2="877" y2="456" stroke-width="0.6"/>
<line x1="810" y1="436" x2="810" y2="447" stroke-width="0.6" marker-end="url(#ar)"/>
<line x1="810" y1="467" x2="810" y2="456" stroke-width="0.6" marker-end="url(#ar)"/>
<line x1="873" y1="426" x2="873" y2="437" stroke-width="0.6" marker-end="url(#ar)"/>
<line x1="873" y1="467" x2="873" y2="456" stroke-width="0.6" marker-end="url(#ar)"/>
<line x1="803" y1="355" x2="803" y2="485" stroke-width="0.6"/>
<line x1="904" y1="420" x2="904" y2="485" stroke-width="0.6"/>
<line x1="803" y1="480" x2="904" y2="480" stroke-width="0.6" marker-start="url(#ar)" marker-end="url(#ar)"/>
</g>
<text x="847" y="166" class="t" text-anchor="middle">F</text>
<text transform="translate(768,195) rotate(-90)" class="t" text-anchor="middle">C</text>
<text transform="translate(791,183) rotate(-90)" class="t" text-anchor="middle">D</text>
<text transform="translate(883,174) rotate(-90)" class="t" text-anchor="middle">E</text>
<text transform="translate(748,218) rotate(-90)" class="t" text-anchor="middle">W</text>
<text transform="translate(816,444) rotate(-90)" class="t" text-anchor="middle">P</text>
<text transform="translate(884,447) rotate(-90)" class="t" text-anchor="middle">G</text>
<text x="853" y="475" class="t" text-anchor="middle">0</text>

<!-- RIGHT BOTTOM K VIEW -->
<g stroke="#222" fill="none" stroke-width="1">
<line x1="569" y1="546" x2="569" y2="565" stroke-width="0.6"/><line x1="656" y1="546" x2="656" y2="565" stroke-width="0.6"/>
<line x1="569" y1="552" x2="656" y2="552" stroke-width="0.6" marker-start="url(#ar)" marker-end="url(#ar)"/>
<rect x="569" y="561" width="87" height="104" rx="8" stroke-width="1.4"/>
<rect x="575" y="566" width="76" height="93" rx="6"/>
<rect x="593" y="665" width="42" height="8"/>
<g stroke-width="0.8"><path d="M592,568 L594,563 L597,568 M600,568 L602,563 L605,568 M608,568 L610,563 L613,568 M616,568 L618,563 L621,568 M624,568 L626,563 L629,568"/>
<path d="M573,590 L577,592 L573,594 M573,600 L577,602 L573,604 M573,610 L577,612 L573,614 M573,620 L577,622 L573,624 M573,630 L577,632 L573,634 M573,640 L577,642 L573,644"/>
<path d="M653,590 L649,592 L653,594 M653,600 L649,602 L653,604 M653,610 L649,612 L653,614 M653,620 L649,622 L653,624 M653,630 L649,632 L653,634 M653,640 L649,642 L653,644"/></g>
<path d="M582,578 Q580,570 587,572 L597,580 L592,585 Z"/>
<circle cx="642" cy="576" r="6"/>
<path d="M626,590 L633,583 L638,588 L631,595 Z"/>
<circle cx="614" cy="605" r="32" stroke-width="1.2"/>
<circle cx="614" cy="605" r="18" stroke-width="1.2"/>
<circle cx="614" cy="605" r="14"/>
<rect x="606" y="597" width="16" height="16" stroke-width="1.2"/>
<circle cx="597" cy="645" r="5.5"/><circle cx="630" cy="645" r="5.5"/><circle cx="614" cy="653" r="5.5"/>
<line x1="614" y1="560" x2="614" y2="678" stroke-width="0.5"/>
<line x1="548" y1="605" x2="660" y2="605" stroke-width="0.5"/>
<line x1="548" y1="561" x2="575" y2="561" stroke-width="0.6"/>
<line x1="552" y1="561" x2="552" y2="605" stroke-width="0.6" marker-start="url(#ar)" marker-end="url(#ar)"/>
</g>
<text x="614" y="547" class="t" text-anchor="middle">K</text>
<text transform="translate(542,583) rotate(-90)" class="t" text-anchor="middle">L</text>

<!-- RIGHT d-spring -->
<text x="835" y="516" class="c" style="font-size:13px">d-弹簧型</text>
<g stroke="#222" fill="none" stroke-width="1">
<line x1="804" y1="529" x2="804" y2="542" stroke-width="0.6"/><line x1="843" y1="529" x2="843" y2="542" stroke-width="0.6"/>
<line x1="804" y1="533" x2="843" y2="533" stroke-width="0.6" marker-start="url(#ar)" marker-end="url(#ar)"/>
<line x1="823" y1="535" x2="823" y2="620" stroke-width="0.5"/>
<rect x="806" y="538" width="7" height="6" fill="#fff"/><rect x="834" y="538" width="7" height="6" fill="#fff"/>
<rect x="804" y="543" width="39" height="14" stroke-width="1.3"/>
<rect x="814" y="543" width="19" height="5" fill="url(#hat)"/>
<rect x="808" y="543" width="4" height="57" fill="#fff"/><rect x="835" y="543" width="4" height="57" fill="#fff"/>
<path d="M814,553 L833,549 M814,558 L833,554 M814,563 L833,559 M814,568 L833,564 M814,573 L833,569 M814,578 L833,574" stroke-width="1.4"/>
<line x1="814" y1="548" x2="814" y2="582"/><line x1="833" y1="548" x2="833" y2="582"/>
<rect x="805" y="582" width="37" height="18" stroke-width="1.3"/>
<rect x="813" y="583" width="21" height="16" fill="url(#hat)"/>
<rect x="804" y="582" width="6" height="18" fill="#444"/><rect x="837" y="582" width="6" height="18" fill="#444"/>
<circle cx="823" cy="586" r="2.5" fill="#fff"/>
<rect x="813" y="600" width="20" height="8"/>
<line x1="805" y1="608" x2="805" y2="625" stroke-width="0.6"/><line x1="841" y1="608" x2="841" y2="625" stroke-width="0.6"/>
<line x1="805" y1="621" x2="841" y2="621" stroke-width="0.6" marker-start="url(#ar)" marker-end="url(#ar)"/>

<line x1="823" y1="628" x2="823" y2="704" stroke-width="0.5"/>
<rect x="806" y="631" width="7" height="6" fill="#fff"/><rect x="834" y="631" width="7" height="6" fill="#fff"/>
<rect x="804" y="636" width="39" height="13" stroke-width="1.3"/>
<rect x="814" y="636" width="19" height="4" fill="url(#hat)"/>
<rect x="808" y="636" width="4" height="60" fill="#fff"/><rect x="835" y="636" width="4" height="60" fill="#fff"/>
<path d="M814,646 L833,642 M814,651 L833,647 M814,656 L833,652 M814,661 L833,657" stroke-width="1.4"/>
<line x1="814" y1="642" x2="814" y2="664"/><line x1="833" y1="642" x2="833" y2="664"/>
<rect x="805" y="664" width="37" height="11" stroke-width="1.3"/>
<rect x="813" y="665" width="21" height="9" fill="url(#hat)"/>
<rect x="804" y="664" width="6" height="11" fill="#444"/><rect x="837" y="664" width="6" height="11" fill="#444"/>
<path d="M820,674 Q820,668 823,668 Q826,668 826,674" fill="#fff"/>
<rect x="805" y="683" width="37" height="12" stroke-width="1.3"/>
<rect x="813" y="684" width="21" height="10" fill="url(#hat)"/>
<rect x="804" y="683" width="6" height="12" fill="#444"/><rect x="837" y="683" width="6" height="12" fill="#444"/>
<rect x="813" y="695" width="20" height="8"/>
<line x1="843" y1="672" x2="870" y2="672" stroke-width="0.6"/><line x1="843" y1="686" x2="870" y2="686" stroke-width="0.6"/>
<line x1="866" y1="663" x2="866" y2="672" stroke-width="0.6" marker-end="url(#ar)"/>
<line x1="866" y1="695" x2="866" y2="686" stroke-width="0.6" marker-end="url(#ar)"/>

<!-- R part -->
<line x1="869" y1="529" x2="869" y2="543" stroke-width="0.6"/><line x1="898" y1="529" x2="898" y2="543" stroke-width="0.6"/>
<line x1="869" y1="533" x2="898" y2="533" stroke-width="0.6" marker-start="url(#ar)" marker-end="url(#ar)"/>
<rect x="880" y="538" width="10" height="5"/>
<rect x="869" y="543" width="29" height="22" rx="2" stroke-width="1.3"/>
<path d="M874,568 L893,565 M874,571 L893,568 M874,574 L893,571 M874,577 L893,574 M874,580 L893,577" stroke-width="1.5"/>
<rect x="876" y="580" width="20" height="19"/>
<rect x="870" y="598" width="30" height="10" rx="2" stroke-width="1.2"/>
<line x1="885" y1="535" x2="885" y2="625" stroke-width="0.5"/>
<line x1="885" y1="539" x2="946" y2="539" stroke-width="0.6"/>
<line x1="893" y1="588" x2="946" y2="588" stroke-width="0.6"/>
<line x1="896" y1="580" x2="920" y2="580" stroke-width="0.6"/>
<line x1="858" y1="585" x2="876" y2="585" stroke-width="0.6"/>
<line x1="858" y1="592" x2="876" y2="592" stroke-width="0.6"/>
<line x1="900" y1="598" x2="920" y2="598" stroke-width="0.6"/>
<line x1="943" y1="539" x2="943" y2="588" stroke-width="0.6" marker-start="url(#ar)" marker-end="url(#ar)"/>
<line x1="943" y1="588" x2="943" y2="626" stroke-width="0.6"/>
<line x1="916" y1="580" x2="916" y2="598" stroke-width="0.6"/>
<line x1="862" y1="575" x2="862" y2="585" stroke-width="0.6" marker-end="url(#ar)"/>
<line x1="862" y1="603" x2="862" y2="592" stroke-width="0.6" marker-end="url(#ar)"/>
<line x1="876" y1="608" x2="876" y2="625" stroke-width="0.6"/><line x1="895" y1="608" x2="895" y2="625" stroke-width="0.6"/>
<line x1="866" y1="618" x2="876" y2="618" stroke-width="0.6" marker-end="url(#ar)"/>
<line x1="905" y1="618" x2="895" y2="618" stroke-width="0.6" marker-end="url(#ar)"/>
</g>
<text x="823" y="527" class="t" text-anchor="middle">Q</text>
<text x="823" y="619" class="t" text-anchor="middle">S</text>
<text x="885" y="527" class="t" text-anchor="middle">R</text>
<text x="885.5" y="624" class="t" text-anchor="middle">F</text>
<text transform="translate(866,679) rotate(-90)" class="t" text-anchor="middle">V</text>
<text transform="translate(857,580) rotate(-90)" class="t" text-anchor="middle">E</text>
<text transform="translate(938,565) rotate(-90)" class="t" text-anchor="middle">T</text>
<text transform="translate(938,606) rotate(-90)" class="t" text-anchor="middle">A</text>
<text transform="translate(926,580) rotate(-90)" class="t" text-anchor="middle">U</text>
<text transform="translate(926,600) rotate(-90)" class="t" text-anchor="middle">C</text>
</svg>
</body></html>
